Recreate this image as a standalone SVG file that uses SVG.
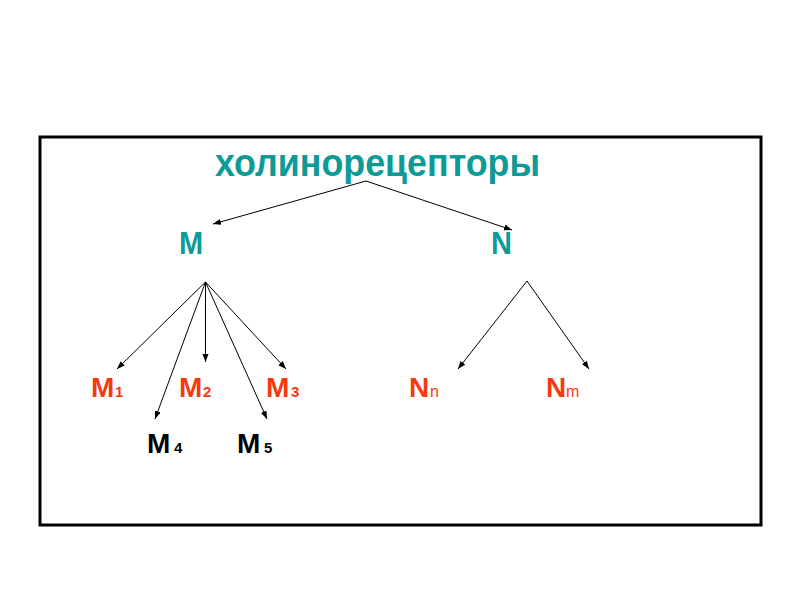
<svg xmlns="http://www.w3.org/2000/svg" width="800" height="600" viewBox="0 0 800 600">
  <style>
    .t { font-family: "Liberation Sans", Arial, sans-serif; font-weight: bold; }
    .teal { fill: #0E9A96; }
    .red { fill: #F53A0E; }
    .blk { fill: #000000; }
    .sub { font-size: 15px; }
    .subn { font-size: 16px; font-weight: normal; }
    .conn line { stroke: #000; stroke-width: 1; marker-end: url(#ah); }
  </style>
  <defs>
    <marker id="ah" markerWidth="9" markerHeight="7" refX="8" refY="3" orient="auto" markerUnits="userSpaceOnUse">
      <path d="M0,0 L8,3 L0,6 Z" fill="#000"/>
    </marker>
  </defs>
  <rect x="0" y="0" width="800" height="600" fill="#fff"/>
  <rect id="frame" x="40" y="137" width="721" height="388" fill="none" stroke="#000" stroke-width="3"/>

  <g id="root"><text class="t teal" x="215" y="176" font-size="36" transform="translate(215 176) scale(0.995 1.08) translate(-215 -176)">холинорецепторы</text></g>
  <g id="M"><text class="t teal" x="179" y="254" font-size="29" transform="translate(179 254) scale(1 1.05) translate(-179 -254)">M</text></g>
  <g id="N"><text class="t teal" x="491" y="254" font-size="29" transform="translate(491 254) scale(1 1.05) translate(-491 -254)">N</text></g>

  <g id="M1"><text class="t red" x="91" y="397" font-size="28">M</text><text class="t red sub" x="115" y="397">1</text></g>
  <g id="M2"><text class="t red" x="179" y="397" font-size="28">M</text><text class="t red sub" x="203" y="397">2</text></g>
  <g id="M3"><text class="t red" x="266" y="397" font-size="28">M</text><text class="t red sub" x="291" y="397">3</text></g>
  <g id="M4"><text class="t blk" x="147" y="453" font-size="28">M</text><text class="t blk sub" x="174" y="453">4</text></g>
  <g id="M5"><text class="t blk" x="237" y="453" font-size="28">M</text><text class="t blk sub" x="264" y="453">5</text></g>
  <g id="Nn"><text class="t red" x="409" y="397" font-size="28">N</text><text class="t red subn" x="430" y="397">n</text></g>
  <g id="Nm"><text class="t red" x="546" y="397" font-size="28">N</text><text class="t red subn" x="566" y="397">m</text></g>

  <g id="connectors" class="conn">
    <line x1="366" y1="181" x2="213" y2="224"/>
    <line x1="366" y1="181" x2="512" y2="230"/>
    <line x1="205.5" y1="282" x2="117" y2="369"/>
    <line x1="205.5" y1="282" x2="155" y2="419"/>
    <line x1="205.5" y1="282" x2="205.5" y2="362"/>
    <line x1="205.5" y1="282" x2="267" y2="419"/>
    <line x1="205.5" y1="282" x2="286" y2="369"/>
    <line x1="527" y1="281" x2="458" y2="369"/>
    <line x1="527" y1="281" x2="589" y2="369"/>
  </g>
</svg>
